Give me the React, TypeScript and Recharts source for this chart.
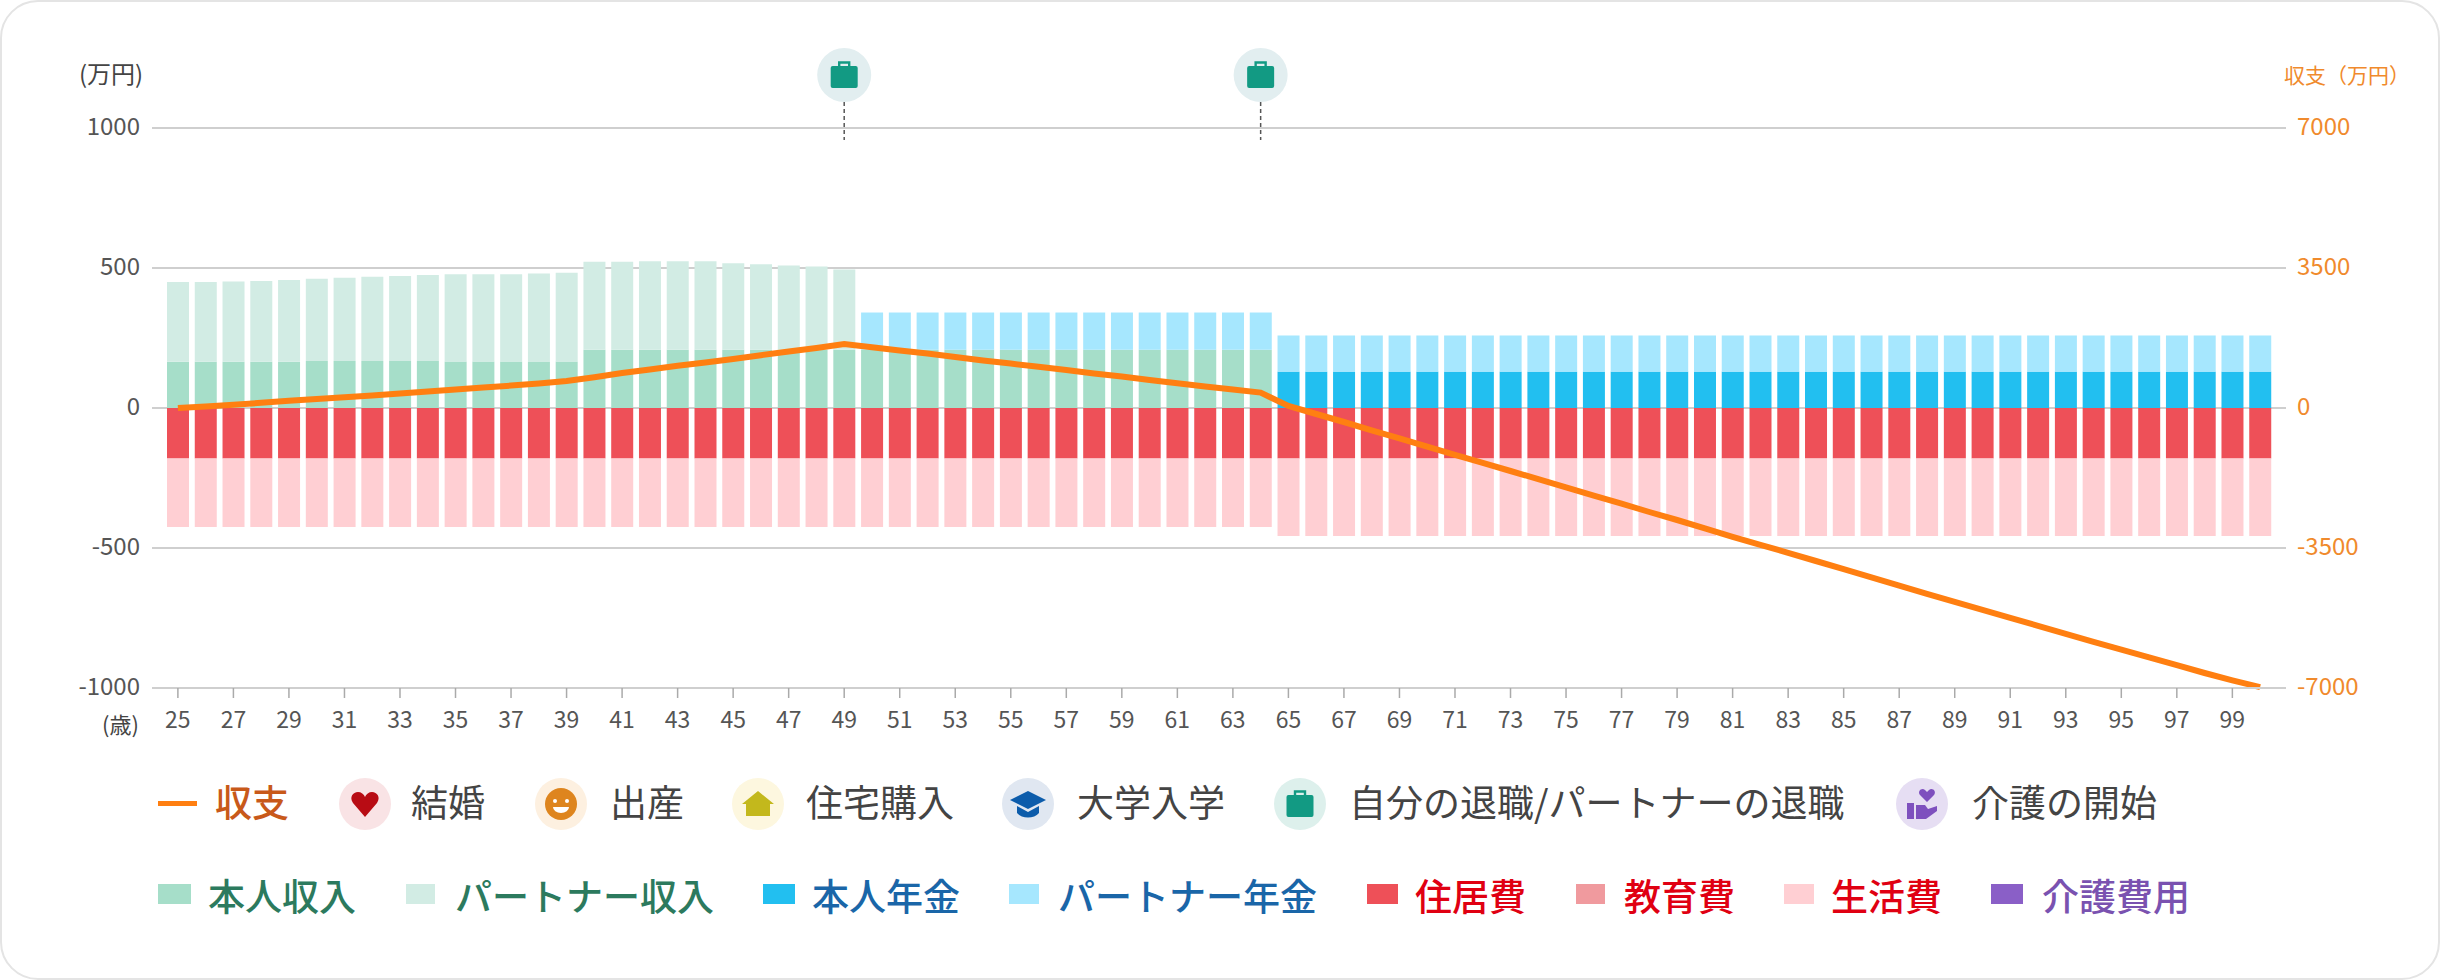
import React from 'react';
import {
  ComposedChart,
  Bar,
  Line,
  XAxis,
  YAxis,
  CartesianGrid,
  ReferenceDot,
} from 'recharts';

const ages = [
  25, 26, 27, 28, 29, 30, 31, 32, 33, 34, 35, 36, 37, 38, 39, 40, 41, 42, 43, 44, 45, 46, 47, 48, 49,
  50, 51, 52, 53, 54, 55, 56, 57, 58, 59, 60, 61, 62, 63, 64, 65, 66, 67, 68, 69, 70, 71, 72, 73, 74,
  75, 76, 77, 78, 79, 80, 81, 82, 83, 84, 85, 86, 87, 88, 89, 90, 91, 92, 93, 94, 95, 96, 97, 98, 99, 100,
];

const selfIncome = [
  165, 165, 165, 165, 165, 168, 168, 168, 168, 168, 166, 166, 166, 166, 166, 208, 208, 208, 208, 208, 208, 208, 208, 208, 208,
  208, 208, 208, 208, 208, 208, 208, 208, 208, 208, 208, 208, 208, 208, 208, 0, 0, 0, 0, 0, 0, 0, 0, 0, 0,
  0, 0, 0, 0, 0, 0, 0, 0, 0, 0, 0, 0, 0, 0, 0, 0, 0, 0, 0, 0, 0, 0, 0, 0, 0, 0,
];

const partnerIncome = [
  285, 285, 287, 289, 292, 294, 297, 301, 303, 307, 312, 312, 312, 314, 317, 314, 314, 316, 316, 316, 309, 305, 301, 297, 287,
  0, 0, 0, 0, 0, 0, 0, 0, 0, 0, 0, 0, 0, 0, 0, 0, 0, 0, 0, 0, 0, 0, 0, 0, 0,
  0, 0, 0, 0, 0, 0, 0, 0, 0, 0, 0, 0, 0, 0, 0, 0, 0, 0, 0, 0, 0, 0, 0, 0, 0, 0,
];

const selfPension = [
  0, 0, 0, 0, 0, 0, 0, 0, 0, 0, 0, 0, 0, 0, 0, 0, 0, 0, 0, 0, 0, 0, 0, 0, 0,
  0, 0, 0, 0, 0, 0, 0, 0, 0, 0, 0, 0, 0, 0, 0, 130, 130, 130, 130, 130, 130, 130, 130, 130, 130,
  130, 130, 130, 130, 130, 130, 130, 130, 130, 130, 130, 130, 130, 130, 130, 130, 130, 130, 130, 130, 130, 130, 130, 130, 130, 130,
];

const partnerPension = [
  0, 0, 0, 0, 0, 0, 0, 0, 0, 0, 0, 0, 0, 0, 0, 0, 0, 0, 0, 0, 0, 0, 0, 0, 0,
  133, 133, 133, 133, 133, 133, 133, 133, 133, 133, 133, 133, 133, 133, 133, 129, 129, 129, 129, 129, 129, 129, 129, 129, 129,
  129, 129, 129, 129, 129, 129, 129, 129, 129, 129, 129, 129, 129, 129, 129, 129, 129, 129, 129, 129, 129, 129, 129, 129, 129, 129,
];

const housingCost = [
  -180, -180, -180, -180, -180, -180, -180, -180, -180, -180, -180, -180, -180, -180, -180, -180, -180, -180, -180, -180, -180, -180, -180, -180, -180,
  -180, -180, -180, -180, -180, -180, -180, -180, -180, -180, -180, -180, -180, -180, -180, -180, -180, -180, -180, -180, -180, -180, -180, -180, -180,
  -180, -180, -180, -180, -180, -180, -180, -180, -180, -180, -180, -180, -180, -180, -180, -180, -180, -180, -180, -180, -180, -180, -180, -180, -180, -180,
];

const livingCost = [
  -245, -245, -245, -245, -245, -245, -245, -245, -245, -245, -245, -245, -245, -245, -245, -245, -245, -245, -245, -245, -245, -245, -245, -245, -245,
  -245, -245, -245, -245, -245, -245, -245, -245, -245, -245, -245, -245, -245, -245, -245, -277, -277, -277, -277, -277, -277, -277, -277, -277, -277,
  -277, -277, -277, -277, -277, -277, -277, -277, -277, -277, -277, -277, -277, -277, -277, -277, -277, -277, -277, -277, -277, -277, -277, -277, -277, -277,
];

const balance = [
  0, 40, 80, 130, 180, 225, 270, 315, 365, 410, 460, 510, 560, 610, 675, 770, 875, 965, 1055, 1140, 1225, 1320, 1410, 1500, 1600,
  1520, 1440, 1360, 1275, 1190, 1110, 1030, 950, 865, 785, 700, 620, 540, 460, 385, 50, -150, -350, -560, -760, -965, -1170, -1370, -1575, -1780,
  -1985, -2190, -2390, -2600, -2800, -3010, -3220, -3420, -3620, -3825, -4030, -4235, -4440, -4645, -4845, -5045, -5245, -5445, -5645, -5845, -6040, -6235, -6430, -6625, -6810, -6980,
];

const retirementAges = [49, 64];
const leftTicks = [-1000, -500, 0, 500, 1000];
const rightTicks = [-7000, -3500, 0, 3500, 7000];

const chartData = ages.map((age, i) => ({
  age,
  selfIncome: selfIncome[i],
  partnerIncome: partnerIncome[i],
  selfPension: selfPension[i],
  partnerPension: partnerPension[i],
  housingCost: housingCost[i],
  livingCost: livingCost[i],
  balance: balance[i],
}));

const FONT = '"Noto Sans CJK JP", "Noto Sans", sans-serif';
const ORANGE = '#FF7F11';
const TEAL = '#129A83';

const BagGlyph = ({ x, y, s = 1 }: { x: number; y: number; s?: number }) => (
  <g transform={`translate(${x},${y}) scale(${s})`}>
    <path d="M-5,-9 v-3.5 h10 v3.5" fill="none" stroke={TEAL} strokeWidth={2.4} />
    <rect x={-13.5} y={-9} width={27} height={22} rx={2} fill={TEAL} />
  </g>
);

const RetirementMarker = ({ cx, cy }: { cx?: number; cy?: number }) => {
  const x = cx ?? 0;
  const y = cy ?? 0;
  return (
    <g>
      <line x1={x} x2={x} y1={y - 26} y2={y + 12} stroke="#555" strokeWidth={1.5} strokeDasharray="4 3" />
      <circle cx={x} cy={y - 53} r={27} fill="#E2EEF0" />
      <BagGlyph x={x} y={y - 53} />
    </g>
  );
};

const icons: Record<string, React.ReactNode> = {
  marriage: (
    <>
      <circle cx={26} cy={26} r={26} fill="#F9E3E5" />
      <path d="M26,39 L14,25 C10,19 14,14 19,14 C22,14 25,16 26,19 C27,16 30,14 33,14 C38,14 42,19 38,25 Z" fill="#B80C14" />
    </>
  ),
  birth: (
    <>
      <circle cx={26} cy={26} r={26} fill="#FDF0E0" />
      <circle cx={26} cy={26} r={16} fill="#DE851E" />
      <circle cx={20} cy={23} r={2} fill="#fff" />
      <circle cx={32} cy={23} r={2} fill="#fff" />
      <path d="M18,29 h16 a8,6 0 0 1 -16,0 Z" fill="#fff" />
    </>
  ),
  house: (
    <>
      <circle cx={26} cy={26} r={26} fill="#FDF7DF" />
      <path d="M26,13 L42,26 H38 V38 H14 V26 H10 Z" fill="#C3B81C" />
    </>
  ),
  college: (
    <>
      <circle cx={26} cy={26} r={26} fill="#E0E7F1" />
      <path d="M26,13 L44,22 L26,31 L8,22 Z" fill="#0C5CAB" />
      <path d="M15,28 V35 C20,41 32,41 37,35 V28 L26,34 Z" fill="#0C5CAB" />
    </>
  ),
  care: (
    <>
      <circle cx={26} cy={26} r={26} fill="#E6DEF3" />
      <path d="M31,24 L24,17 C21,13 26,9 29,12 L31,14 L33,12 C36,9 41,13 38,17 Z" fill="#7E50BE" />
      <rect x={11} y={25} width={7} height={16} fill="#7E50BE" />
      <path d="M20,27 H29 L32,31 L41,28 L41,33 L30,41 H20 Z" fill="#7E50BE" />
    </>
  ),
};

const eventLegend = [
  { label: '結婚', icon: 'marriage', iconLeft: 339, textLeft: 411 },
  { label: '出産', icon: 'birth', iconLeft: 535, textLeft: 610 },
  { label: '住宅購入', icon: 'house', iconLeft: 732, textLeft: 806 },
  { label: '大学入学', icon: 'college', iconLeft: 1002, textLeft: 1077 },
  { label: '自分の退職/パートナーの退職', icon: 'retire', iconLeft: 1274, textLeft: 1349 },
  { label: '介護の開始', icon: 'care', iconLeft: 1896, textLeft: 1972 },
];

const seriesLegend = [
  { label: '本人収入', fill: '#A6DEC9', text: '#2C7A5E', boxLeft: 158, boxWidth: 33, textLeft: 208 },
  { label: 'パートナー収入', fill: '#D2ECE4', text: '#2C7A5E', boxLeft: 406, boxWidth: 29, textLeft: 455 },
  { label: '本人年金', fill: '#22BFF0', text: '#1A66A8', boxLeft: 763, boxWidth: 32, textLeft: 812 },
  { label: 'パートナー年金', fill: '#A6E7FE', text: '#1A66A8', boxLeft: 1009, boxWidth: 30, textLeft: 1058 },
  { label: '住居費', fill: '#EE5058', text: '#E00012', boxLeft: 1367, boxWidth: 31, textLeft: 1415 },
  { label: '教育費', fill: '#F09A9E', text: '#E00012', boxLeft: 1576, boxWidth: 29, textLeft: 1624 },
  { label: '生活費', fill: '#FFCFD3', text: '#E00012', boxLeft: 1784, boxWidth: 30, textLeft: 1831 },
  { label: '介護費用', fill: '#8A5FC7', text: '#7A52B0', boxLeft: 1991, boxWidth: 32, textLeft: 2042 },
];

const abs = (left: number, top: number, extra: React.CSSProperties = {}): React.CSSProperties => ({
  position: 'absolute',
  left,
  top,
  whiteSpace: 'nowrap',
  ...extra,
});

const App = () => (
  <div
    style={{
      position: 'absolute',
      left: 0,
      top: 0,
      width: 2440,
      height: 980,
      boxSizing: 'border-box',
      border: '2px solid #E4E4E4',
      borderRadius: 38,
      background: '#fff',
      fontFamily: FONT,
      overflow: 'hidden',
    }}
  >
    <div style={{ position: 'absolute', left: -2, top: -2 }}>
      <ComposedChart
        width={2440}
        height={980}
        data={chartData}
        stackOffset="sign"
        barSize={22}
        margin={{ top: 128, right: 74, bottom: 242, left: 92 }}
      >
        <CartesianGrid horizontal vertical={false} yAxisId="left" stroke="#CFCFCF" strokeWidth={2} />
        <XAxis
          dataKey="age"
          interval={1}
          height={50}
          padding={{ left: 12, right: 12 }}
          tickSize={10}
          tickMargin={14}
          axisLine={{ stroke: '#CFCFCF', strokeWidth: 2 }}
          tickLine={{ stroke: '#AAAAAA', strokeWidth: 1.5 }}
          tick={{ fontSize: 23, fill: '#555', fontFamily: FONT }}
        />
        <YAxis
          yAxisId="left"
          domain={[-1000, 1000]}
          ticks={leftTicks}
          width={60}
          axisLine={false}
          tickLine={false}
          tickMargin={6}
          tick={{ fontSize: 24, fill: '#555', fontFamily: FONT, dy: -2 }}
        />
        <YAxis
          yAxisId="right"
          orientation="right"
          domain={[-7000, 7000]}
          ticks={rightTicks}
          width={80}
          axisLine={false}
          tickLine={false}
          tickMargin={5}
          tick={{ fontSize: 24, fill: '#F08A2C', fontFamily: FONT, dy: -2 }}
        />
        <Bar yAxisId="left" dataKey="selfIncome" stackId="a" fill="#A6DEC9" isAnimationActive={false} />
        <Bar yAxisId="left" dataKey="partnerIncome" stackId="a" fill="#D2ECE4" isAnimationActive={false} />
        <Bar yAxisId="left" dataKey="selfPension" stackId="a" fill="#22BFF0" isAnimationActive={false} />
        <Bar yAxisId="left" dataKey="partnerPension" stackId="a" fill="#A6E7FE" isAnimationActive={false} />
        <Bar yAxisId="left" dataKey="housingCost" stackId="a" fill="#EE5058" isAnimationActive={false} />
        <Bar yAxisId="left" dataKey="livingCost" stackId="a" fill="#FFCFD3" isAnimationActive={false} />
        <Line
          yAxisId="right"
          type="linear"
          dataKey="balance"
          stroke={ORANGE}
          strokeWidth={6}
          dot={false}
          isAnimationActive={false}
        />
        {retirementAges.map((age) => (
          <ReferenceDot
            key={age}
            yAxisId="left"
            x={age}
            y={1000}
            ifOverflow="visible"
            shape={(props: { cx?: number; cy?: number }) => <RetirementMarker {...props} />}
          />
        ))}
      </ComposedChart>

      <div style={abs(79, 57, { fontSize: 24, lineHeight: '32px', color: '#444' })}>(万円)</div>
      <div style={abs(102, 707, { fontSize: 22, lineHeight: '32px', color: '#444' })}>(歳)</div>
      <div style={abs(2284, 58, { fontSize: 21, lineHeight: '32px', color: '#F08A2C' })}>収支（万円）</div>

      <div style={abs(158, 801, { width: 39, height: 5, background: ORANGE })} />
      <div style={abs(215, 775, { fontSize: 37, lineHeight: '52px', fontWeight: 500, color: '#C8591A' })}>収支</div>
      {eventLegend.map((item) => (
        <React.Fragment key={item.label}>
          <svg width={52} height={52} style={abs(item.iconLeft, 778)}>
            {item.icon === 'retire' ? (
              <>
                <circle cx={26} cy={26} r={26} fill="#DDF0EC" />
                <BagGlyph x={26} y={26} />
              </>
            ) : (
              icons[item.icon]
            )}
          </svg>
          <div style={abs(item.textLeft, 775, { fontSize: 37, lineHeight: '52px', color: '#444' })}>{item.label}</div>
        </React.Fragment>
      ))}

      {seriesLegend.map((item) => (
        <React.Fragment key={item.label}>
          <div style={abs(item.boxLeft, 884, { width: item.boxWidth, height: 20, background: item.fill })} />
          <div style={abs(item.textLeft, 869, { fontSize: 37, lineHeight: '52px', fontWeight: 500, color: item.text })}>
            {item.label}
          </div>
        </React.Fragment>
      ))}
    </div>
  </div>
);

export default App;
